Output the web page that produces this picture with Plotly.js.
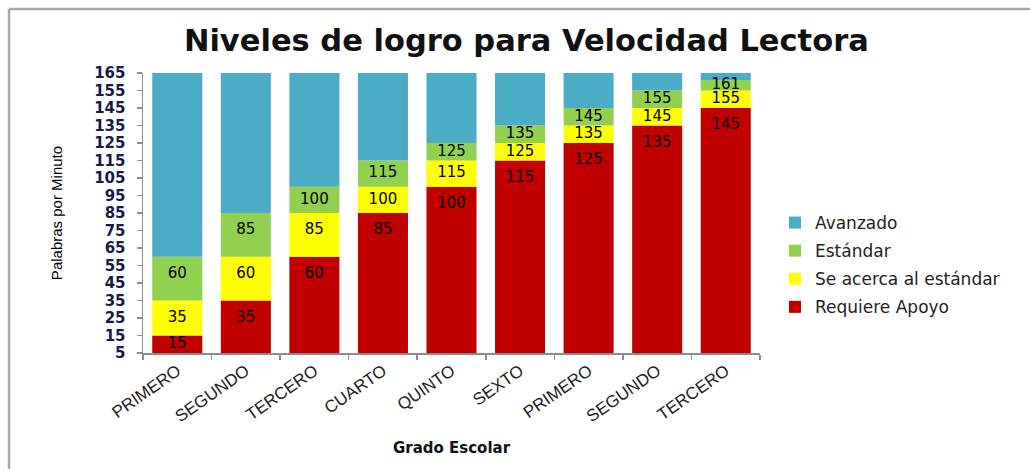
<!DOCTYPE html>
<html>
<head>
<meta charset="utf-8">
<script src="https://cdn.plot.ly/plotly-3.0.1.min.js"></script>
<style>
  html, body { margin: 0; padding: 0; background: #fff; }
  #plot { width: 1030px; height: 469px; }
</style>
</head>
<body>
<div id="plot"></div>
<script>
// grados escolares (se repiten PRIMERO..TERCERO, por eso se usa eje numerico)
var grados = ['PRIMERO', 'SEGUNDO', 'TERCERO', 'CUARTO', 'QUINTO', 'SEXTO', 'PRIMERO', 'SEGUNDO', 'TERCERO'];

// limite superior de cada nivel (palabras por minuto)
var requiereApoyo = [15, 35, 60, 85, 100, 115, 125, 135, 145];
var seAcerca = [35, 60, 85, 100, 115, 125, 135, 145, 155];
var estandar = [60, 85, 100, 115, 125, 135, 145, 155, 161];
var avanzado = [165, 165, 165, 165, 165, 165, 165, 165, 165];
var ejeMin = 5;

var niveles = ['Requiere Apoyo', 'Se acerca al estándar', 'Estándar', 'Avanzado'];
var colores = ['#C00000', '#FFFF00', '#92D050', '#4BACC6'];
var topes = [requiereApoyo, seAcerca, estandar, avanzado];
var conEtiqueta = [true, true, true, false];

var xs = grados.map(function (g, i) { return i; });

var data = [];
var labX = [], labY = [], labT = [];
var prev = xs.map(function () { return ejeMin; });

topes.forEach(function (top, k) {
  var base = prev.slice();
  data.push({
    type: 'bar',
    name: niveles[k],
    legendgroup: niveles[k],
    legendrank: topes.length - k,
    x: xs,
    y: top.map(function (v, i) { return v - base[i]; }),
    base: base,
    width: 0.73,
    marker: { color: colores[k], line: { width: 0 } },
    hoverinfo: 'skip'
  });
  if (conEtiqueta[k]) {
    top.forEach(function (v, i) {
      var lo = Math.max(base[i], v - 20);
      labX.push(i);
      labY.push((lo + v) / 2);
      labT.push(String(v));
    });
  }
  prev = top.slice();
});

data.push({
  type: 'scatter',
  mode: 'text',
  x: labX,
  y: labY,
  text: labT,
  textposition: 'middle center',
  textfont: { family: 'DejaVu Sans', size: 15, color: '#000' },
  showlegend: false,
  cliponaxis: false,
  hoverinfo: 'skip'
});

var M = { l: 143, r: 270, t: 73, b: 116 };
var W = 1030, H = 469;
var pw = W - M.l - M.r, ph = H - M.t - M.b;
function px(x) { return (x - M.l) / pw; }
function py(y) { return (H - M.b - y) / ph; }

var layout = {
  width: W,
  height: H,
  margin: M,
  paper_bgcolor: '#fff',
  plot_bgcolor: '#fff',
  barmode: 'overlay',
  showlegend: true,
  title: {
    text: 'Niveles de logro para Velocidad Lectora',
    font: { family: 'DejaVu Sans', size: 30.5, color: '#111', weight: 'bold' },
    xref: 'container', x: 0.511, xanchor: 'center',
    yref: 'container', y: 1 - 40 / H, yanchor: 'middle'
  },
  xaxis: {
    range: [-0.5, 8.5],
    tickmode: 'array',
    tickvals: xs,
    ticktext: grados,
    ticks: '',
    tickangle: -35,
    tickfont: { family: 'Liberation Sans', size: 17, color: '#222' },
    showline: true,
    linecolor: '#8c8c8c',
    linewidth: 1.5,
    showgrid: false,
    zeroline: false,
    minor: { ticks: 'outside', ticklen: 5, tick0: 0.5, dtick: 1, tickcolor: '#8c8c8c', tickwidth: 1.5, showgrid: false },
    title: {
      text: 'Grado Escolar',
      font: { family: 'DejaVu Sans', size: 15, color: '#111', weight: 'bold' },
      standoff: 17
    },
    automargin: false,
    fixedrange: true
  },
  yaxis: {
    range: [ejeMin, 165],
    tick0: 5,
    dtick: 10,
    ticks: 'outside',
    ticklen: 5,
    tickcolor: '#8c8c8c',
    tickwidth: 1.5,
    ticklabelstandoff: 8,
    tickfont: { family: 'DejaVu Sans', size: 15, color: '#1a1a48', weight: 'bold' },
    showline: true,
    linecolor: '#8c8c8c',
    linewidth: 1.5,
    showgrid: false,
    zeroline: false,
    title: {
      text: 'Palabras por Minuto',
      font: { family: 'Liberation Sans', size: 15, color: '#000' },
      standoff: 28
    },
    automargin: false,
    fixedrange: true
  },
  legend: {
    traceorder: 'grouped',
    tracegroupgap: 3,
    x: px(775),
    xanchor: 'left',
    y: py(265),
    yanchor: 'middle',
    font: { family: 'DejaVu Sans', size: 17, color: '#222' },
    bgcolor: 'rgba(0,0,0,0)'
  },
  shapes: [
    { type: 'line', xref: 'paper', yref: 'paper', x0: px(9), x1: px(W), y0: py(9), y1: py(9), line: { color: '#a8a8a8', width: 2.5 } },
    { type: 'line', xref: 'paper', yref: 'paper', x0: px(9), x1: px(9), y0: py(9), y1: py(H), line: { color: '#a8a8a8', width: 2.5 } }
  ]
};

Plotly.newPlot('plot', data, layout, { displayModeBar: false, staticPlot: true });
</script>
</body>
</html>
